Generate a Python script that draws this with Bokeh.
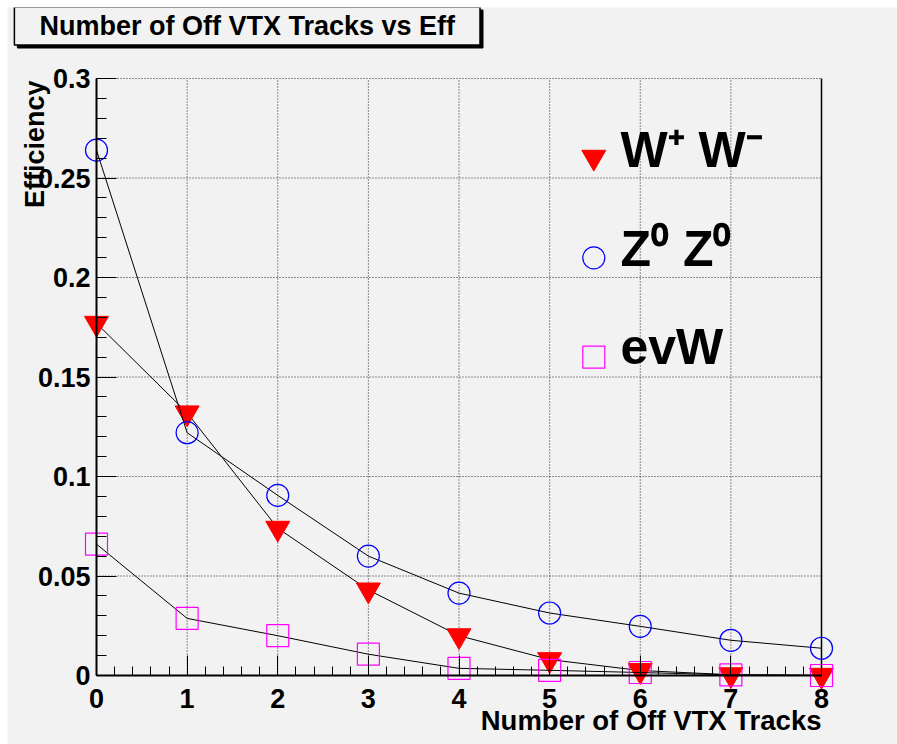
import math
import numpy as np
from bokeh.plotting import figure
from bokeh.models import FixedTicker, Label, LinearAxis
from bokeh.embed import file_html
from bokeh.resources import INLINE

# ---- data -------------------------------------------------------------
n_tracks = [0, 1, 2, 3, 4, 5, 6, 7, 8]
eff_ww = [0.177, 0.132, 0.074, 0.043, 0.020, 0.008, 0.0025, 0.0004, 0.0001]
eff_zz = [0.264, 0.122, 0.0905, 0.060, 0.0414, 0.0314, 0.0247, 0.0177, 0.0137]
eff_evw = [0.066, 0.0287, 0.020, 0.0107, 0.0036, 0.0026, 0.0015, 0.0003, 0.0]
series_labels = ["W\u207a W\u207b", "Z\u2070 Z\u2070", "evW"]

x_ticks = [0, 1, 2, 3, 4, 5, 6, 7, 8]
x_tick_labels = ["0", "1", "2", "3", "4", "5", "6", "7", "8"]
y_ticks = [0, 0.05, 0.1, 0.15, 0.2, 0.25, 0.3]
y_tick_labels = ["0", "0.05", "0.1", "0.15", "0.2", "0.25", "0.3"]

title_text = "Number of Off VTX Tracks vs Eff"
x_title = "Number of Off VTX Tracks"
y_title = "Efficiency"

# ---- page geometry (pixels on the page) -------------------------------
PAGE_W, PAGE_H = 897, 744
EDGE = 7                                   # white strip on the left and top
F_L, F_R, F_T, F_B = 96, 821, 78, 675      # edges of the data frame
X0, X1, Y0, Y1 = 0, 8, 0, 0.3
FONT = "Liberation Sans"
BG = "#f2f2f2"


def dx(px):
    return X0 + (px - F_L) / (F_R - F_L) * (X1 - X0)


def dy(py):
    return Y0 + (F_B - py) / (F_B - F_T) * (Y1 - Y0)


def text_label(px, py, text, size, **kw):
    """Bold black text centred vertically on the page point (px, py)."""
    opts = dict(text_font=FONT, text_font_style="bold", text_font_size=size,
                text_color="black", text_align="left", text_baseline="middle")
    opts.update(kw)
    return Label(x=dx(px), y=dy(py), text=text, **opts)


# the canvas itself is the drawing area, so markers and texts may sit
# outside the 0..8 / 0..0.3 box without being clipped
p = figure(
    width=PAGE_W - EDGE, height=PAGE_H - EDGE,
    x_range=(dx(EDGE), dx(PAGE_W)), y_range=(dy(PAGE_H), dy(EDGE)),
    x_axis_type=None, y_axis_type=None,
    output_backend="svg", toolbar_location=None,
    min_border=0,
    background_fill_color=BG, border_fill_color=BG,
    outline_line_color=None,
)
p.margin = (EDGE, 0, 0, EDGE)
p.xgrid.visible = False
p.ygrid.visible = False

# ---- dotted grid and frame edge -------------------------------------------
grid_style = dict(line_color="black", line_dash="1 2", line_width=1, line_alpha=0.85)
p.segment(x0=x_ticks[1:-1], y0=[Y0] * (len(x_ticks) - 2),
          x1=x_ticks[1:-1], y1=[Y1] * (len(x_ticks) - 2), **grid_style)
p.segment(x0=[X0] * (len(y_ticks) - 1), y0=y_ticks[1:],
          x1=[X1] * (len(y_ticks) - 1), y1=y_ticks[1:], **grid_style)
p.segment(x0=[X1], y0=[Y0], x1=[X1], y1=[Y1], line_color="black", line_width=1.5)

# ---- axes --------------------------------------------------------------
xaxis = LinearAxis(fixed_location=Y0, bounds=(X0, X1))
yaxis = LinearAxis(fixed_location=X0, bounds=(Y0, Y1))
xaxis.ticker = FixedTicker(ticks=x_ticks,
                           minor_ticks=[round(v, 2) for v in np.arange(0, 8.001, 0.2)])
yaxis.ticker = FixedTicker(ticks=y_ticks,
                           minor_ticks=[round(v, 3) for v in np.arange(0, 0.3001, 0.01)])
xaxis.major_label_overrides = dict(zip(x_ticks, x_tick_labels))
yaxis.major_label_overrides = dict(zip(y_ticks, y_tick_labels))

for ax in (xaxis, yaxis):
    ax.axis_line_color = "black"
    ax.axis_line_width = 2
    ax.major_tick_line_color = "black"
    ax.minor_tick_line_color = "black"
    ax.major_tick_in = 20
    ax.major_tick_out = 0
    ax.minor_tick_out = 0
    ax.major_label_text_font = FONT
    ax.major_label_text_font_style = "bold"
    ax.major_label_text_font_size = "27px"
    ax.major_label_text_color = "black"
xaxis.minor_tick_in = 9
yaxis.minor_tick_in = 10
xaxis.major_label_standoff = 13
yaxis.major_label_standoff = 6
p.add_layout(xaxis, "below")
p.add_layout(yaxis, "left")

# ---- series -------------------------------------------------------------
series = [
    (eff_ww, dict(marker="inverted_triangle", size=24, fill_color="#ff0000",
                  line_color="#ff0000")),
    (eff_zz, dict(marker="circle", size=22, fill_color=None,
                  line_color="#0000ff", line_width=1.2)),
    (eff_evw, dict(marker="square", size=22, fill_color=None,
                   line_color="#ff00ff", line_width=1.2)),
]
for ys, style in series:
    p.line(n_tracks, ys, line_color="black", line_width=1)
    p.scatter(n_tracks, ys, **style)

# ---- legend ---------------------------------------------------------------
key_px = 593.3
key_rows_px = [156.7, 257.3, 356.7]
text_px = 620
text_mid_px = [149.0, 248.0, 346.5]
for (ys, style), row, mid, lab in zip(series, key_rows_px, text_mid_px, series_labels):
    p.scatter([dx(key_px)], [dy(row)], **style)
    p.add_layout(text_label(text_px, mid, lab, "50px"))

# ---- axis titles ------------------------------------------------------------
p.add_layout(text_label(F_R, 720, x_title, "27.5px", text_align="right"))
p.add_layout(text_label(34.5, 80, y_title, "27px", text_align="right",
                        angle=math.pi / 2))

# ---- title box with drop shadow ---------------------------------------------
tb_px, tb_py = 246.7, 25.5
pad = dict(left=25, right=25, top=4, bottom=4)
p.add_layout(text_label(tb_px, tb_py, title_text, "27px", text_align="center",
                        x_offset=3, y_offset=-3,
                        background_fill_color="black", border_line_color="black",
                        padding=pad))
p.add_layout(text_label(tb_px, tb_py, title_text, "27px", text_align="center",
                        background_fill_color=BG, border_line_color="black",
                        border_line_width=1.5, padding=pad))

open("out.html", "w").write(file_html(p, INLINE))
